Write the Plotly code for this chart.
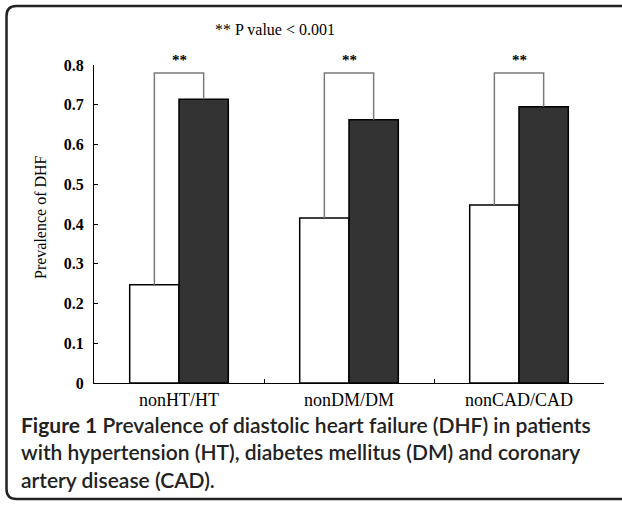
import plotly.graph_objects as go

categories = ["nonHT/HT", "nonDM/DM", "nonCAD/CAD"]
non_values = [0.247, 0.415, 0.448]
with_values = [0.714, 0.662, 0.695]
bracket_top = [0.78, 0.78, 0.78]
y_ticks = [0, 0.1, 0.2, 0.3, 0.4, 0.5, 0.6, 0.7, 0.8]
y_ticktext = ["0", "0.1", "0.2", "0.3", "0.4", "0.5", "0.6", "0.7", "0.8"]
caption = ("<b>Figure 1</b> Prevalence of diastolic heart failure (DHF) in patients<br>"
           "with hypertension (HT), diabetes mellitus (DM) and coronary<br>"
           "artery disease (CAD).")

W, H = 622, 505
L, R, T, B = 94, 18, 65, 122
pw, ph = W - L - R, H - T - B

def px(x):
    return (x - L) / pw

def py(y):
    return (H - B - y) / ph

fig = go.Figure()
fig.add_trace(go.Bar(x=categories, y=non_values, marker=dict(color="white", line=dict(color="black", width=1.5)), showlegend=False))
fig.add_trace(go.Bar(x=categories, y=with_values, marker=dict(color="#333333", line=dict(color="black", width=1.5)), showlegend=False))

half = 0.145
shapes = []
annotations = []
for i in range(len(categories)):
    xl, xr = i - half, i + half
    shapes.append(dict(type="path", xref="x", yref="y",
                       path=f"M {xl},{non_values[i]} L {xl},{bracket_top[i]} L {xr},{bracket_top[i]} L {xr},{with_values[i]}",
                       line=dict(color="#7a7a7a", width=1.5)))
    annotations.append(dict(x=i, y=bracket_top[i], xref="x", yref="y", text="<b>**</b>", showarrow=False,
                            yanchor="bottom", yshift=3, font=dict(family="Liberation Serif", size=15, color="black")))

annotations.append(dict(x=px(275), y=py(29), xref="paper", yref="paper", text="** P value &lt; 0.001", showarrow=False,
                        xanchor="center", yanchor="middle", font=dict(family="Liberation Serif", size=16, color="black")))
annotations.append(dict(x=px(19), y=py(410), xref="paper", yref="paper", text=caption, showarrow=False,
                        xanchor="left", yanchor="top", align="left",
                        font=dict(family="Lato", size=21, color="#222222", weight=600)))
annotations.append(dict(x=px(40), y=py(217), xref="paper", yref="paper", text="Prevalence of DHF", showarrow=False,
                        textangle=-90, xanchor="center", yanchor="middle",
                        font=dict(family="Liberation Serif", size=16, color="black")))

# rounded frame
x0, y0 = px(6.5), py(6)
x1, y1 = px(640), py(499)
rx, ry = 10 / pw, 10 / ph
frame = (f"M {x0},{y1 + ry} L {x0},{y0 - ry} Q {x0},{y0} {x0 + rx},{y0} L {x1},{y0} "
         f"M {x1},{y1} L {x0 + rx},{y1} Q {x0},{y1} {x0},{y1 + ry}")
shapes.append(dict(type="path", xref="paper", yref="paper", path=frame, line=dict(color="#222222", width=2.5)))

fig.update_layout(
    width=W, height=H,
    margin=dict(l=L, r=R, t=T, b=B),
    paper_bgcolor="white", plot_bgcolor="white",
    barmode="group", bargap=0.42, bargroupgap=0,
    shapes=shapes, annotations=annotations,
    xaxis=dict(type="category", range=[-0.5, 2.5], showline=True, linecolor="black", linewidth=1,
               ticks="inside", ticklen=4, tickcolor="black", tickson="boundaries",
               showgrid=False, zeroline=False,
               tickfont=dict(family="Liberation Serif", size=18, color="black")),
    yaxis=dict(range=[0, 0.8], tickvals=y_ticks, ticktext=y_ticktext, showline=True, linecolor="black", linewidth=1,
               ticks="inside", ticklen=4, tickcolor="black", showgrid=False, zeroline=False,
               ticklabelstandoff=6,
               tickfont=dict(family="Liberation Serif", size=16, color="black", weight="bold")),
)

fig.write_html("out.html", config={"displayModeBar": False},
               post_script="document.body.style.margin='0';document.body.style.overflow='hidden';")
